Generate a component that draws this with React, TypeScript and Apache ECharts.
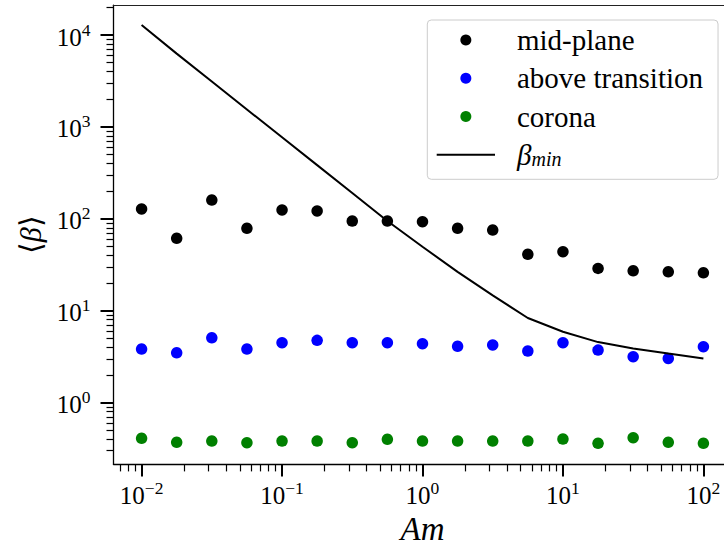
import React, { useEffect, useRef } from "react";
import * as echarts from "echarts";

// Alfvén-Mach number samples (quarter decades from 1e-2 to 1e2)
const amValues = [
  0.01, 0.01778, 0.03162, 0.05623, 0.1, 0.1778, 0.3162, 0.5623, 1, 1.778, 3.162,
  5.623, 10, 17.78, 31.62, 56.23, 100,
];

// mean plasma beta in each region
const midPlane = [
  128, 61.4, 160, 78.9, 125, 122, 94.6, 94.6, 93.0, 78.9, 75.5, 41.1, 43.9, 28.9, 27.2,
  26.5, 25.9,
];
const aboveTransition = [
  3.83, 3.49, 5.08, 3.83, 4.49, 4.76, 4.49, 4.49, 4.38, 4.1, 4.24, 3.64, 4.49, 3.73,
  3.16, 3.03, 4.06,
];
const corona = [
  0.409, 0.37, 0.382, 0.367, 0.382, 0.382, 0.367, 0.399, 0.382, 0.382, 0.382, 0.382,
  0.402, 0.361, 0.415, 0.37, 0.361,
];
// theoretical lower bound
const betaMin = [
  12850, 6280, 3120, 1550, 771, 384, 191, 94.6, 49.7, 26.5, 14.7, 8.34, 5.9, 4.56, 3.88,
  3.42, 3.03,
];

const seriesNames = ["mid-plane", "above transition", "corona", "βmin"];
const seriesColors = ["#000000", "#0000ff", "#008000", "#000000"];

// axis ranges and tick positions
const xRange = [0.00631, 158.5];
const yRange = [0.2128, 21130];
const xMajorTicks = [0.01, 0.1, 1, 10, 100];
const yMajorTicks = [1, 10, 100, 1000, 10000];
const minorMantissas = [2, 3, 4, 5, 6, 7, 8, 9];
const minorDecades = [0.001, 0.01, 0.1, 1, 10, 100, 1000, 10000];

const serif = "'Liberation Serif', 'Times New Roman', serif";

function minorTicks(range: number[]) {
  const out: number[] = [];
  minorDecades.forEach((d) =>
    minorMantissas.forEach((m) => {
      const v = m * d;
      if (v > range[0] && v < range[1]) out.push(v);
    })
  );
  return out;
}

function powerLabel(v: number) {
  const e = Math.round(Math.log10(v));
  return `{b|10}{s|${e < 0 ? "\u2212" + -e : e}}`;
}

const powerRich = {
  b: { fontFamily: serif, fontSize: 25, lineHeight: 29, color: "#000", verticalAlign: "bottom" },
  s: { fontFamily: serif, fontSize: 17.5, lineHeight: 17, color: "#000", verticalAlign: "top" },
};

export default function App() {
  const ref = useRef<HTMLDivElement>(null);

  useEffect(() => {
    if (!ref.current) return;
    const chart = echarts.init(ref.current, null, { renderer: "svg" });

    const pairs = (ys: number[]) => amValues.map((a, i) => [a, ys[i]]);

    const hiddenParts = {
      axisLabel: { show: false },
      splitLine: { show: false },
      minorTick: { show: false },
      minorSplitLine: { show: false },
    };

    const scatter = (i: number, ys: number[]) => ({
      name: seriesNames[i],
      type: "scatter",
      xAxisIndex: 0,
      yAxisIndex: 0,
      data: pairs(ys),
      symbolSize: 11.5,
      itemStyle: { color: seriesColors[i], opacity: 1 },
    });

    chart.setOption({
      animation: false,
      backgroundColor: "#ffffff",
      grid: {
        left: 113.5,
        top: 5.2,
        width: 618,
        height: 459.2,
        containLabel: false,
        outerBoundsMode: "none",
      },
      xAxis: [
        {
          type: "log",
          logBase: 10,
          position: "bottom",
          min: xRange[0],
          max: xRange[1],
          axisLine: { show: true, lineStyle: { color: "#000", width: 1.3 } },
          axisTick: {
            show: true,
            customValues: xMajorTicks,
            length: 12,
            lineStyle: { color: "#000", width: 2 },
          },
          axisLabel: {
            customValues: xMajorTicks,
            margin: 14.2,
            fontFamily: serif,
            fontSize: 25,
            color: "#000",
            formatter: powerLabel,
            rich: powerRich,
          },
          splitLine: { show: false },
          minorTick: { show: false },
          name: "Am",
          nameLocation: "middle",
          nameGap: 36,
          nameTextStyle: {
            fontFamily: serif,
            fontStyle: "italic",
            fontSize: 33,
            color: "#000",
          },
        },
        {
          type: "log",
          logBase: 10,
          position: "bottom",
          min: xRange[0],
          max: xRange[1],
          axisLine: { show: false },
          axisTick: {
            show: true,
            customValues: minorTicks(xRange),
            length: 7,
            lineStyle: { color: "#000", width: 1.2 },
          },
          ...hiddenParts,
        },
        {
          type: "log",
          logBase: 10,
          position: "top",
          min: xRange[0],
          max: xRange[1],
          axisLine: { show: true, lineStyle: { color: "#222", width: 1.2 } },
          axisTick: { show: false },
          ...hiddenParts,
        },
      ],
      yAxis: [
        {
          type: "log",
          logBase: 10,
          position: "left",
          min: yRange[0],
          max: yRange[1],
          axisLine: { show: true, lineStyle: { color: "#000", width: 1.3 } },
          axisTick: {
            show: true,
            customValues: yMajorTicks,
            length: 13,
            lineStyle: { color: "#000", width: 2 },
          },
          axisLabel: {
            customValues: yMajorTicks,
            margin: 23,
            fontFamily: serif,
            fontSize: 25,
            color: "#000",
            formatter: powerLabel,
            rich: powerRich,
          },
          splitLine: { show: false },
          minorTick: { show: false },
          name: "{n|\u27E8}{i|β}{n|\u27E9}",
          nameLocation: "middle",
          nameGap: 60,
          nameRotate: 90,
          nameTextStyle: {
            fontFamily: serif,
            fontSize: 30,
            color: "#000",
            rich: {
              n: { fontFamily: serif, fontSize: 30, color: "#000" },
              i: { fontFamily: serif, fontStyle: "italic", fontSize: 30, color: "#000" },
            },
          },
        },
        {
          type: "log",
          logBase: 10,
          position: "left",
          min: yRange[0],
          max: yRange[1],
          axisLine: { show: false },
          axisTick: {
            show: true,
            customValues: minorTicks(yRange),
            length: 7,
            lineStyle: { color: "#000", width: 1.2 },
          },
          ...hiddenParts,
        },
      ],
      legend: {
        orient: "vertical",
        left: 427.3,
        top: 20,
        padding: [5.4, 15, 10, 9.4],
        itemWidth: 58.3,
        itemHeight: 11,
        itemGap: 9.3,
        backgroundColor: "rgba(255,255,255,0.8)",
        borderColor: "#cccccc",
        borderWidth: 1,
        borderRadius: 4,
        textStyle: {
          fontFamily: serif,
          fontSize: 29,
          lineHeight: 28,
          color: "#000",
          padding: [0, 0, 0, 17],
          rich: {
            i: { fontFamily: serif, fontStyle: "italic", fontSize: 29, color: "#000" },
            sub: {
              fontFamily: serif,
              fontStyle: "italic",
              fontSize: 20,
              color: "#000",
              verticalAlign: "bottom",
              lineHeight: 14,
            },
          },
        },
        formatter: (name: string) => (name === "βmin" ? "{i|β}{sub|min}" : name),
        data: [
          { name: seriesNames[0], icon: "circle" },
          { name: seriesNames[1], icon: "circle" },
          { name: seriesNames[2], icon: "circle" },
          { name: seriesNames[3], icon: "path://M0 0H30V1H0Z" },
        ],
      },
      series: [
        scatter(0, midPlane),
        scatter(1, aboveTransition),
        scatter(2, corona),
        {
          name: seriesNames[3],
          type: "line",
          xAxisIndex: 0,
          yAxisIndex: 0,
          data: pairs(betaMin),
          symbol: "none",
          lineStyle: { color: seriesColors[3], width: 2 },
          itemStyle: { color: seriesColors[3] },
        },
      ],
    });

    return () => chart.dispose();
  }, []);

  return (
    <div
      ref={ref}
      style={{ position: "fixed", left: 0, top: 0, width: 724, height: 546 }}
    />
  );
}
